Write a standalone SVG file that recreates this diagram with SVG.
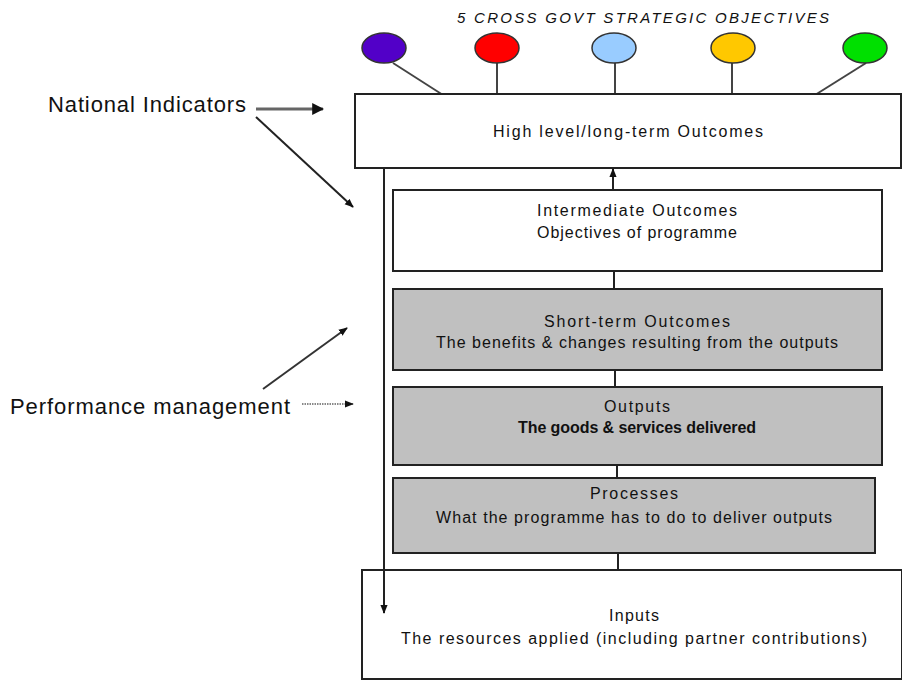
<svg xmlns="http://www.w3.org/2000/svg" width="902" height="680" viewBox="0 0 902 680">
<defs>
<style>
text{font-family:"Liberation Sans",Arial,sans-serif;fill:#111;text-anchor:middle}
.box{stroke:#222;stroke-width:2}
.w{fill:#fff}
.g{fill:#c0c0c0}
.t{font-size:16px}
.lbl{font-size:22px;text-anchor:start}
.obj{stroke:#333;stroke-width:1.5}
.stem{stroke:#444;stroke-width:2;fill:none}
.conn{stroke:#222;stroke-width:2;fill:none}
</style>
<marker id="ah" viewBox="0 0 10 10" refX="9" refY="5" markerWidth="4" markerHeight="4" orient="auto" markerUnits="strokeWidth">
<path d="M0,0 L10,5 L0,10 z" fill="#111"/>
</marker>
<marker id="ahs" viewBox="0 0 10 10" refX="9" refY="5" markerWidth="9" markerHeight="9" orient="auto" markerUnits="userSpaceOnUse">
<path d="M0,1 L10,5 L0,9 z" fill="#111"/>
</marker>
</defs>
<rect width="902" height="680" fill="#fff"/>
<text x="643" y="23" font-size="15" font-style="italic" textLength="372" lengthAdjust="spacing">5 CROSS GOVT STRATEGIC OBJECTIVES</text>
<g id="objectives">
<line class="stem" x1="393" y1="63" x2="443" y2="95"/>
<line class="stem" x1="497" y1="63" x2="497" y2="95"/>
<line class="stem" x1="615" y1="63" x2="615" y2="95"/>
<line class="stem" x1="732" y1="63" x2="732" y2="95"/>
<line class="stem" x1="866" y1="63" x2="815" y2="95"/>
<ellipse id="obj-purple" class="obj" cx="384" cy="48" rx="22" ry="15" fill="#5200c8"/>
<ellipse id="obj-red" class="obj" cx="497" cy="48" rx="22" ry="15" fill="#ff0000"/>
<ellipse id="obj-blue" class="obj" cx="614" cy="48" rx="22" ry="15" fill="#99ccff"/>
<ellipse id="obj-yellow" class="obj" cx="733" cy="48" rx="22" ry="15" fill="#ffc800"/>
<ellipse id="obj-green" class="obj" cx="865" cy="48" rx="22" ry="15" fill="#00e000"/>
</g>
<g id="high">
<rect class="box w" x="355" y="94" width="546" height="74"/>
<text class="t" x="628" y="137" textLength="270" lengthAdjust="spacing">High level/long-term Outcomes</text>
</g>
<g id="intermediate">
<rect class="box w" x="393" y="190" width="489" height="81"/>
<text class="t" x="637" y="216" textLength="200" lengthAdjust="spacing">Intermediate Outcomes</text>
<text class="t" x="637" y="238" textLength="200" lengthAdjust="spacing">Objectives of programme</text>
</g>
<g id="shortterm">
<rect class="box g" x="393" y="289" width="489" height="81"/>
<text class="t" x="637" y="327" textLength="186" lengthAdjust="spacing">Short-term Outcomes</text>
<text class="t" x="637" y="348" textLength="402" lengthAdjust="spacing">The benefits &amp; changes resulting from the outputs</text>
</g>
<g id="outputs">
<rect class="box g" x="393" y="387" width="489" height="78"/>
<text class="t" x="637" y="412" textLength="66" lengthAdjust="spacing">Outputs</text>
<text class="t" x="637" y="433" font-size="15" font-weight="bold" textLength="238" lengthAdjust="spacing">The goods &amp; services delivered</text>
</g>
<g id="processes">
<rect class="box g" x="393" y="478" width="482" height="75"/>
<text class="t" x="634" y="499" textLength="88" lengthAdjust="spacing">Processes</text>
<text class="t" x="634" y="523" textLength="396" lengthAdjust="spacing">What the programme has to do to deliver outputs</text>
</g>
<g id="inputs">
<rect class="box w" x="362" y="570" width="540" height="109"/>
<text class="t" x="634" y="621" textLength="50" lengthAdjust="spacing">Inputs</text>
<text class="t" x="634" y="644" textLength="466" lengthAdjust="spacing">The resources applied (including partner contributions)</text>
</g>
<g id="national-indicators">
<text class="lbl" x="48" y="112" textLength="198" lengthAdjust="spacing">National Indicators</text>
</g>
<g id="performance-management">
<text class="lbl" x="10" y="414" textLength="280" lengthAdjust="spacing">Performance management</text>
</g>
<g id="connectors">
<line class="conn" x1="613" y1="190" x2="613" y2="169" marker-end="url(#ahs)"/>
<line class="conn" x1="614" y1="271" x2="614" y2="289"/>
<line class="conn" x1="615" y1="370" x2="615" y2="387"/>
<line class="conn" x1="617" y1="465" x2="617" y2="478"/>
<line class="conn" x1="618" y1="553" x2="618" y2="570"/>
<line class="conn" x1="384" y1="168" x2="384" y2="613" marker-end="url(#ahs)"/>
<line x1="256" y1="109" x2="323" y2="109" stroke="#666" stroke-width="3" marker-end="url(#ah)"/>
<line x1="256" y1="117" x2="353" y2="207" stroke="#222" stroke-width="2" marker-end="url(#ahs)"/>
<line x1="263" y1="389" x2="347" y2="328" stroke="#333" stroke-width="2" marker-end="url(#ahs)"/>
<line x1="302" y1="404" x2="353" y2="404" stroke="#888" stroke-width="2" stroke-dasharray="1.5,1" marker-end="url(#ahs)"/>
</g>
</svg>
